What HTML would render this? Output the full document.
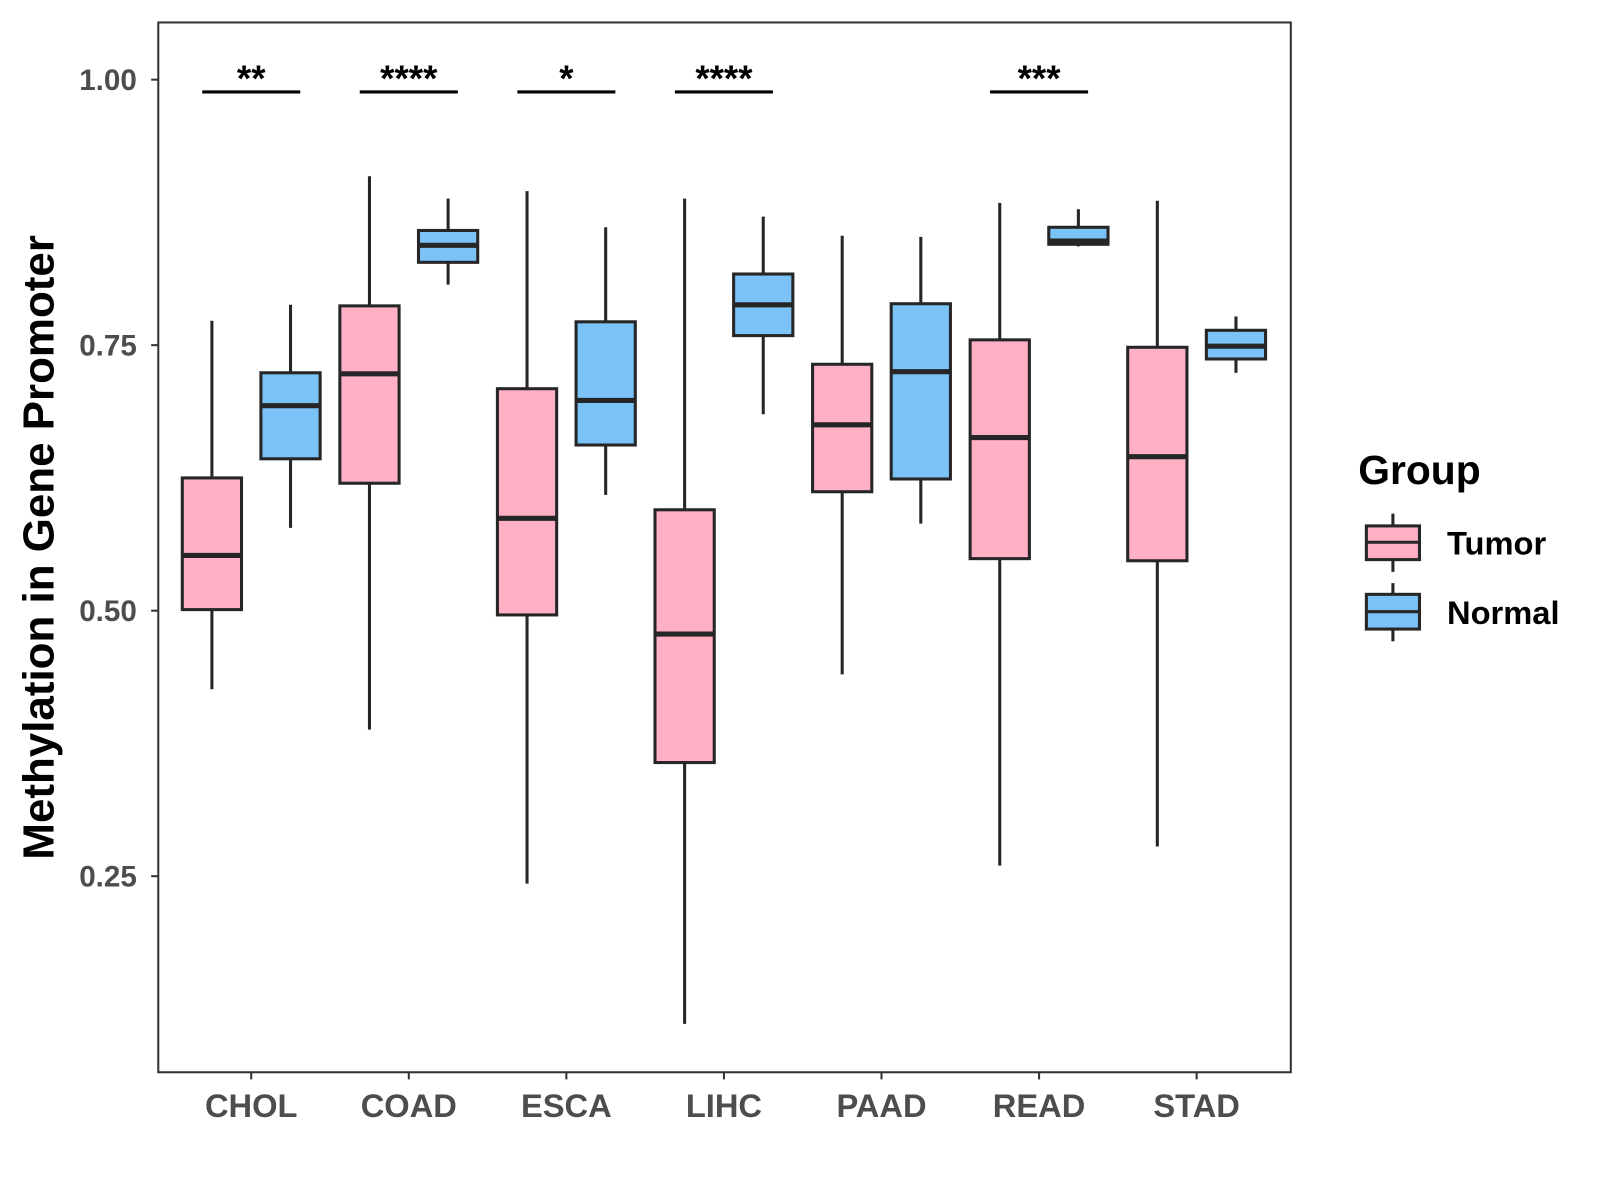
<!DOCTYPE html>
<html><head><meta charset="utf-8"><style>
html,body{margin:0;padding:0;background:#fff;}
svg{display:block;font-family:"Liberation Sans",Arial,sans-serif;}
</style></head><body>
<svg id="chart" width="1600" height="1200" viewBox="0 0 1600 1200">
<g transform="scale(1.0212)">
<rect x="155" y="22" width="1109" height="1028" fill="#fff" stroke="#333" stroke-width="2"/>
<g id="marks"></g>
<text x="38" y="536" transform="rotate(-90 38 536)" text-anchor="middle" dominant-baseline="central" font-size="43" font-weight="bold" fill="#000">Methylation in Gene Promoter</text>
<g>
<text x="1330" y="474" font-size="40" font-weight="bold" fill="#000">Group</text>
<g>
<line x1="1364" y1="503" x2="1364" y2="560" stroke="#262626" stroke-width="3"/>
<rect x="1338" y="515" width="52" height="33" fill="#FFB0C4" stroke="#262626" stroke-width="3"/>
<line x1="1338" y1="531" x2="1390" y2="531" stroke="#262626" stroke-width="3"/>
<text x="1417" y="543" font-size="32" font-weight="bold" fill="#000">Tumor</text>
</g>
<g>
<line x1="1364" y1="571" x2="1364" y2="628" stroke="#262626" stroke-width="3"/>
<rect x="1338" y="582" width="52" height="34" fill="#7BC3F7" stroke="#262626" stroke-width="3"/>
<line x1="1338" y1="599" x2="1390" y2="599" stroke="#262626" stroke-width="3"/>
<text x="1417" y="611" font-size="32" font-weight="bold" fill="#000">Normal</text>
</g>
</g>
</g>
</svg>
<script>
const categories = ["CHOL","COAD","ESCA","LIHC","PAAD","READ","STAD"];
// [whiskerHigh, q3, median, q1, whiskerLow]
const tumorStats = [
 [0.773,0.625,0.552,0.501,0.426],
 [0.909,0.787,0.723,0.620,0.388],
 [0.895,0.709,0.587,0.496,0.243],
 [0.888,0.595,0.478,0.357,0.111],
 [0.853,0.732,0.675,0.612,0.440],
 [0.884,0.755,0.663,0.549,0.260],
 [0.886,0.748,0.645,0.547,0.278]
];
const normalStats = [
 [0.788,0.724,0.693,0.643,0.578],
 [0.888,0.858,0.844,0.828,0.807],
 [0.861,0.772,0.698,0.656,0.609],
 [0.871,0.817,0.788,0.759,0.685],
 [0.852,0.789,0.725,0.624,0.582],
 [0.878,0.861,0.848,0.845,0.843],
 [0.777,0.764,0.749,0.737,0.724]
];
const significance = ["**","****","*","****","","***",""];
const yTicks = [0.25,0.50,0.75,1.00];
const yTickLabels = ["0.25","0.50","0.75","1.00"];

const NS="http://www.w3.org/2000/svg";
const g=document.getElementById('marks');
function y(v){return 78+(1-v)*1040;}
function x(i){return 246+i*154.3;}
function mk(tag,attrs,parent){const e=document.createElementNS(NS,tag);for(const k in attrs)e.setAttribute(k,attrs[k]);(parent||g).appendChild(e);return e;}

yTicks.forEach((t,i)=>{
  const tk=mk('line',{x1:148,x2:155,y1:y(t),y2:y(t),stroke:'#333','stroke-width':2});
  
  
  const tl=mk('text',{x:134,y:y(t)+10,'text-anchor':'end','font-size':29,'font-weight':'bold',fill:'#4d4d4d'});
  tl.textContent=yTickLabels[i];
  
  
});
categories.forEach((c,i)=>{
  const tk=mk('line',{x1:x(i),x2:x(i),y1:1050,y2:1057,stroke:'#333','stroke-width':2});
  
  
  const tl=mk('text',{x:x(i),y:1094,'text-anchor':'middle','font-size':32,'font-weight':'bold',fill:'#4d4d4d'});
  tl.textContent=c;
  
  
});
function box(cx,s,fill,name){
  const grp=mk('g',{});
  
  
  mk('line',{x1:cx,x2:cx,y1:y(s[0]),y2:y(s[4]),stroke:'#262626','stroke-width':3},grp);
  mk('rect',{x:cx-29,y:y(s[1]),width:58,height:y(s[3])-y(s[1]),fill:fill,stroke:'#262626','stroke-width':3},grp);
  mk('line',{x1:cx-29,x2:cx+29,y1:y(s[2]),y2:y(s[2]),stroke:'#262626','stroke-width':5},grp);
}
categories.forEach((c,i)=>{
  box(x(i)-38.5,tumorStats[i],'#FFB0C4','box-tumor-'+c.toLowerCase());
  box(x(i)+38.5,normalStats[i],'#7BC3F7','box-normal-'+c.toLowerCase());
  if(significance[i]){
    const l=mk('line',{x1:x(i)-48,x2:x(i)+48,y1:90,y2:90,stroke:'#000','stroke-width':3});
    
    
    const t=mk('text',{x:x(i),y:89,'text-anchor':'middle','font-size':36,'font-weight':'bold',fill:'#000'});
    t.textContent=significance[i];
    
    
  }
});
</script>
</body></html>
